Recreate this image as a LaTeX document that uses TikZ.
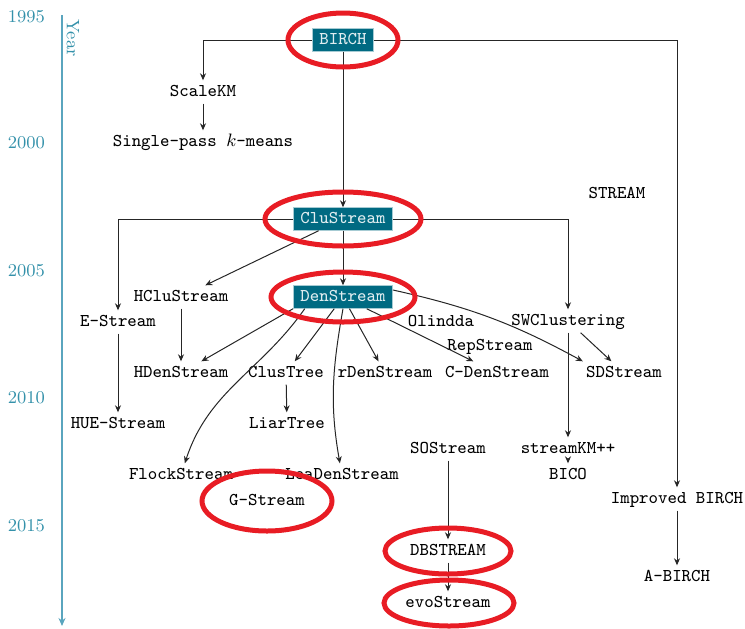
\documentclass[tikz,border=0pt]{standalone}
\usepackage{amsmath}
\usetikzlibrary{arrows.meta}
\definecolor{boxteal}{RGB}{0,106,130}
\definecolor{yearteal}{RGB}{52,145,170}
\definecolor{axisteal}{RGB}{90,165,190}
\definecolor{ringred}{RGB}{232,28,36}

\begin{document}
\begin{tikzpicture}[x=0.5pt, y=-0.5pt,
    algo/.style={font=\small\ttfamily, inner sep=1.5pt, text height=6.5pt, text depth=1.8pt},
    keyalgo/.style={algo, fill=boxteal, draw=boxteal!35, text=white!88!boxteal, inner xsep=3.5pt},
    year/.style={font=\small, text=yearteal},
    link/.style={-{Stealth[length=3.5pt, width=3pt]}, line width=0.5pt, draw=black!85},
    ring/.style={draw=ringred, line width=2.5pt}]
    \useasboundingbox (0,0) rectangle (745,628);
    \draw[axisteal, line width=1pt, -{Stealth[length=4pt, width=3.5pt]}] (62,15) -- (62,626);
    \node[year, rotate=-90] (yr) at (73,38) {Year};
    \node[year, anchor=east] (y1995) at (52,17) {1995};
    \node[year, anchor=east] (y2000) at (52,143) {2000};
    \node[year, anchor=east] (y2005) at (52,271) {2005};
    \node[year, anchor=east] (y2010) at (52,398) {2010};
    \node[year, anchor=east] (y2015) at (52,526) {2015};
    \node[keyalgo] (birch) at (343,40) {BIRCH};
    \node[algo] (scalekm) at (203,92) {ScaleKM};
    \node[algo] (singlepass) at (203,142) {Single-pass $k$-means};
    \node[algo] (stream) at (617,194) {STREAM};
    \node[keyalgo] (clustream) at (343,219) {CluStream};
    \node[keyalgo] (denstream) at (343,297) {DenStream};
    \node[algo] (hclustream) at (181,297) {HCluStream};
    \node[algo] (estream) at (118,322) {E-Stream};
    \node[algo] (swclust) at (568,321) {SWClustering};
    \node[algo] (olindda) at (441,322) {Olindda};
    \node[algo] (repstream) at (490,346) {RepStream};
    \node[algo] (hdenstream) at (181,373) {HDenStream};
    \node[algo] (clustree) at (286,373) {ClusTree};
    \node[algo] (rdenstream) at (385,373) {rDenStream};
    \node[algo] (cdenstream) at (497,373) {C-DenStream};
    \node[algo] (sdstream) at (624,373) {SDStream};
    \node[algo] (huestream) at (118,424) {HUE-Stream};
    \node[algo] (liartree) at (287,424) {LiarTree};
    \node[algo] (sostream) at (448,449) {SOStream};
    \node[algo] (streamkm) at (568,449) {streamKM++};
    \node[algo] (bico) at (568,475) {BICO};
    \node[algo] (flock) at (181,475) {FlockStream};
    \node[algo] (leaden) at (342,475) {LeaDenStream};
    \node[algo] (gstream) at (267,501) {G-Stream};
    \node[algo] (ibirch) at (677,499) {Improved BIRCH};
    \node[algo] (dbstream) at (448,551) {DBSTREAM};
    \node[algo] (evostream) at (448,603) {evoStream};
    \node[algo] (abirch) at (677,577) {A-BIRCH};
    \draw[link] (birch.west) -| (scalekm);
    \draw[link] (scalekm) -- (singlepass);
    \draw[link] (birch) -- (clustream);
    \draw[link] (birch.east) -| (ibirch);
    \draw[link] (ibirch) -- (abirch);
    \draw[link] (clustream.west) -| (estream);
    \draw[link] (clustream.east) -| (swclust);
    \draw[link] (clustream) -- (hclustream);
    \draw[link] (clustream) -- (denstream);
    \draw[link] (estream) -- (huestream);
    \draw[link] (hclustream) -- (hdenstream);
    \draw[link] (denstream.south west) -- (hdenstream);
    \draw[link] (denstream) -- (clustree);
    \draw[link] (denstream) -- (rdenstream);
    \draw[link] (denstream) -- (cdenstream);
    \draw[link] (denstream.-163) to[out=-125, in=72] (flock);
    \draw[link] (denstream.south) to[out=-100, in=100] (leaden);
    \draw[link] (denstream.8) to[bend left=8] (sdstream.north west);
    \draw[link] (swclust) -- (sdstream);
    \draw[link] (swclust) -- (streamkm);
    \draw[link] (streamkm) -- (bico);
    \draw[link] (clustree) -- (liartree);
    \draw[link] (sostream) -- (dbstream);
    \draw[link] (dbstream) -- (evostream);
    \draw[ring] (birch) ellipse [x radius=27.5pt, y radius=13.5pt];
    \draw[ring] (clustream) ellipse [x radius=39pt, y radius=13.5pt];
    \draw[ring] (denstream) ellipse [x radius=36pt, y radius=12.5pt];
    \draw[ring] (gstream) ellipse [x radius=32.5pt, y radius=15pt];
    \draw[ring] (dbstream) ellipse [x radius=31.5pt, y radius=11.5pt];
    \draw[ring] (449,603) ellipse [x radius=32.5pt, y radius=11.5pt];
\end{tikzpicture}
\end{document}
